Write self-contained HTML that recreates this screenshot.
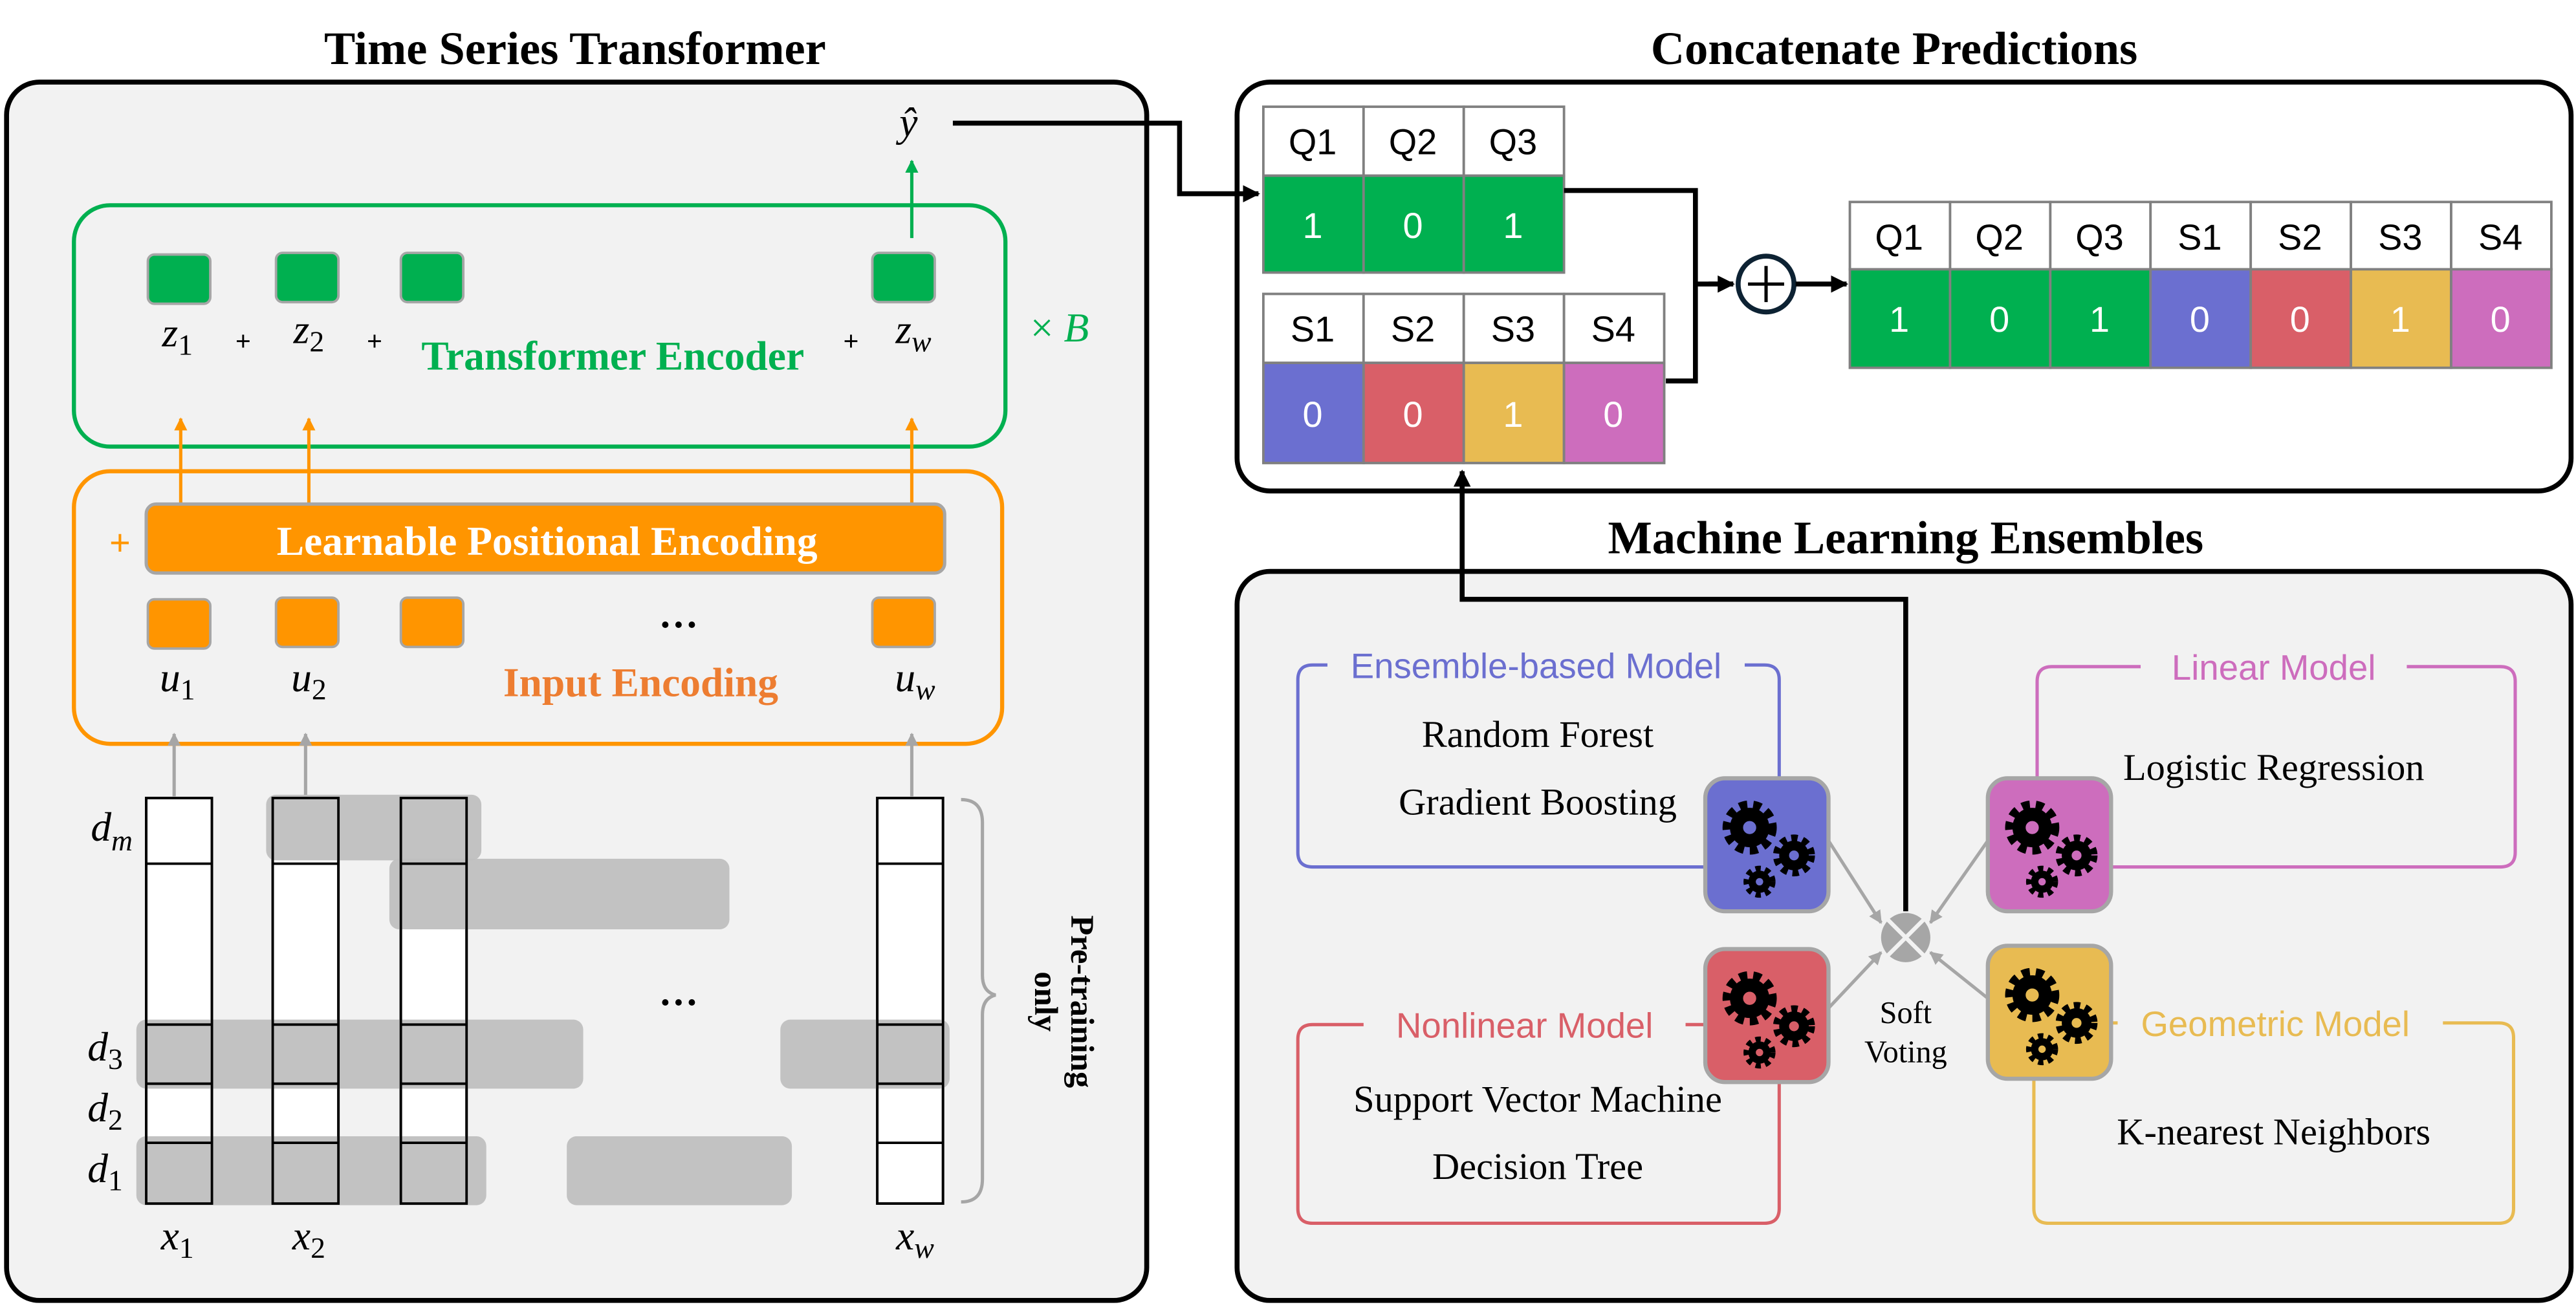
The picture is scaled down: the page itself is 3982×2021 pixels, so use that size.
<!DOCTYPE html>
<html><head><meta charset="utf-8"><style>html,body{margin:0;padding:0;background:#fff}svg{display:block}</style></head><body>
<svg width="3982" height="2021" viewBox="0 0 1568 796" preserveAspectRatio="none" xmlns="http://www.w3.org/2000/svg">
<defs>
<marker id="ag" viewBox="0 0 10 10" refX="9" refY="5" markerWidth="4" markerHeight="4" orient="auto"><path d="M0,0L10,5L0,10z" fill="#00b050"/></marker>
<marker id="ao" viewBox="0 0 10 10" refX="9" refY="5" markerWidth="4" markerHeight="4" orient="auto"><path d="M0,0L10,5L0,10z" fill="#ff9500"/></marker>
<marker id="agr" viewBox="0 0 10 10" refX="9" refY="5" markerWidth="4" markerHeight="4" orient="auto"><path d="M0,0L10,5L0,10z" fill="#a6a6a6"/></marker>
<marker id="ab" viewBox="0 0 10 10" refX="9" refY="5" markerWidth="3.5" markerHeight="3.5" orient="auto"><path d="M0,0L10,5L0,10z" fill="#000"/></marker>
<g id="gear">
<circle cx="25" cy="28" r="13" fill="none" stroke="#000" stroke-width="7" stroke-dasharray="4.5 3.4"/>
<circle cx="25" cy="28" r="8" fill="none" stroke="#000" stroke-width="8"/>
<circle cx="52" cy="45" r="10" fill="none" stroke="#000" stroke-width="5.5" stroke-dasharray="3.6 2.9"/>
<circle cx="52" cy="45" r="6" fill="none" stroke="#000" stroke-width="6"/>
<circle cx="31" cy="61" r="7.5" fill="none" stroke="#000" stroke-width="4.5" stroke-dasharray="3 2.5"/>
<circle cx="31" cy="61" r="4.5" fill="none" stroke="#000" stroke-width="4.5"/>
</g>
</defs>
<g font-family="Liberation Serif, serif" font-weight="bold" font-size="28.5" text-anchor="middle">
<text x="350" y="39">Time Series Transformer</text>
<text x="1153" y="39">Concatenate Predictions</text>
<text x="1160" y="337">Machine Learning Ensembles</text>
</g>
<!-- left panel -->
<rect x="4" y="50" width="694" height="742" rx="20" fill="#f2f2f2" stroke="#000" stroke-width="3"/>
<rect x="45" y="125" width="567" height="147" rx="22" fill="none" stroke="#00b050" stroke-width="2.5"/>
<g fill="#00b050" stroke="#a6a6a6" stroke-width="1.5">
<rect x="90" y="155" width="38" height="30" rx="4"/><rect x="168" y="154" width="38" height="30" rx="4"/><rect x="244" y="154" width="38" height="30" rx="4"/><rect x="531" y="154" width="38" height="30" rx="4"/></g>
<line x1="555" y1="145" x2="555" y2="98" stroke="#00b050" stroke-width="2" marker-end="url(#ag)"/>
<g font-family="Liberation Serif, serif" font-style="italic" font-size="25" text-anchor="middle">
<text x="108" y="211">z<tspan font-size="18" dy="5" font-style="normal">1</tspan></text>
<text x="188" y="209">z<tspan font-size="18" dy="5" font-style="normal">2</tspan></text>
<text x="556" y="209">z<tspan font-size="18" dy="5">w</tspan></text>
<text x="553" y="83">ŷ</text>
<text x="108" y="421">u<tspan font-size="18" dy="5" font-style="normal">1</tspan></text>
<text x="188" y="421">u<tspan font-size="18" dy="5" font-style="normal">2</tspan></text>
<text x="557" y="421">u<tspan font-size="18" dy="5">w</tspan></text>
<text x="108" y="761">x<tspan font-size="18" dy="5" font-style="normal">1</tspan></text>
<text x="188" y="761">x<tspan font-size="18" dy="5" font-style="normal">2</tspan></text>
<text x="557" y="761">x<tspan font-size="18" dy="5">w</tspan></text>
<text x="68" y="512">d<tspan font-size="18" dy="6">m</tspan></text>
<text x="64" y="646">d<tspan font-size="18" dy="5" font-style="normal">3</tspan></text>
<text x="64" y="683">d<tspan font-size="18" dy="5" font-style="normal">2</tspan></text>
<text x="64" y="720">d<tspan font-size="18" dy="5" font-style="normal">1</tspan></text>
</g>
<g font-family="Liberation Sans, sans-serif" font-size="16" text-anchor="middle"><text x="148" y="213">+</text><text x="228" y="213">+</text><text x="518" y="213">+</text></g>
<text x="373" y="225" font-family="Liberation Serif, serif" font-weight="bold" font-size="25" fill="#00b050" text-anchor="middle">Transformer Encoder</text>
<text x="645" y="208" font-family="Liberation Serif, serif" font-size="25" fill="#00b050" text-anchor="middle">× <tspan font-style="italic">B</tspan></text>
<rect x="45" y="287" width="565" height="166" rx="22" fill="none" stroke="#ff9500" stroke-width="2.5"/>
<g stroke="#ff9500" stroke-width="2"><line x1="110" y1="307" x2="110" y2="255" marker-end="url(#ao)"/><line x1="188" y1="307" x2="188" y2="255" marker-end="url(#ao)"/><line x1="555" y1="307" x2="555" y2="255" marker-end="url(#ao)"/></g>
<rect x="89" y="307" width="486" height="42" rx="6" fill="#ff9500" stroke="#a6a6a6" stroke-width="2"/>
<text x="333" y="338" font-family="Liberation Serif, serif" font-weight="bold" font-size="25" fill="#fff" text-anchor="middle">Learnable Positional Encoding</text>
<text x="73" y="338" font-family="Liberation Sans, sans-serif" font-size="22" fill="#ff9500" text-anchor="middle">+</text>
<g fill="#ff9500" stroke="#a6a6a6" stroke-width="1.5">
<rect x="90" y="365" width="38" height="30" rx="4"/><rect x="168" y="364" width="38" height="30" rx="4"/><rect x="244" y="364" width="38" height="30" rx="4"/><rect x="531" y="364" width="38" height="30" rx="4"/></g>
<text x="413" y="382" font-family="Liberation Serif, serif" font-weight="bold" font-size="24" text-anchor="middle">…</text>
<text x="390" y="424" font-family="Liberation Serif, serif" font-weight="bold" font-size="25" fill="#ed7d31" text-anchor="middle">Input Encoding</text>
<g stroke="#a6a6a6" stroke-width="2"><line x1="106" y1="485" x2="106" y2="447" marker-end="url(#agr)"/><line x1="186" y1="485" x2="186" y2="447" marker-end="url(#agr)"/><line x1="555" y1="485" x2="555" y2="447" marker-end="url(#agr)"/></g>
<!-- data grid -->
<g fill="#fff" stroke="#000" stroke-width="1.5">
<rect x="89" y="486" width="40" height="247"/><rect x="166" y="486" width="40" height="247"/><rect x="244" y="486" width="40" height="247"/><rect x="534" y="486" width="40" height="247"/></g>
<g fill="#bfbfbf" fill-opacity="0.95">
<rect x="162" y="484" width="131" height="40" rx="6"/>
<rect x="237" y="523" width="207" height="43" rx="6"/>
<rect x="83" y="621" width="272" height="42" rx="6"/>
<rect x="475" y="621" width="103" height="42" rx="6"/>
<rect x="83" y="692" width="213" height="42" rx="6"/>
<rect x="345" y="692" width="137" height="42" rx="6"/>
</g>
<g fill="none" stroke="#000" stroke-width="1.5">
<rect x="89" y="486" width="40" height="247"/><rect x="166" y="486" width="40" height="247"/><rect x="244" y="486" width="40" height="247"/><rect x="534" y="486" width="40" height="247"/>
<path d="M89 526h40M166 526h40M244 526h40M534 526h40M89 624h40M166 624h40M244 624h40M534 624h40M89 660h40M166 660h40M244 660h40M534 660h40M89 696h40M166 696h40M244 696h40M534 696h40"/></g>
<text x="413" y="612" font-family="Liberation Serif, serif" font-weight="bold" font-size="24" text-anchor="middle">…</text>
<path d="M585 487q13 0 13 14v93q0 10 8 12q-8 2 -8 12v100q0 14 -13 14" fill="none" stroke="#a6a6a6" stroke-width="2"/>
<text transform="translate(652,610) rotate(90)" font-family="Liberation Serif, serif" font-weight="bold" font-size="20" text-anchor="middle"><tspan x="0" y="0">Pre-training</tspan><tspan x="0" y="22">only</tspan></text>
<!-- top right panel -->
<rect x="753" y="50" width="812" height="249" rx="20" fill="#fff" stroke="#000" stroke-width="3"/>
<path d="M580 75H718V118H766" fill="none" stroke="#000" stroke-width="3" marker-end="url(#ab)"/>
<g font-family="Liberation Sans, sans-serif" font-size="22" text-anchor="middle" stroke="#808080" stroke-width="1.5">
<rect x="769" y="65" width="61" height="42" fill="#fff"/><rect x="830" y="65" width="61" height="42" fill="#fff"/><rect x="891" y="65" width="61" height="42" fill="#fff"/>
<rect x="769" y="107" width="61" height="59" fill="#00b050"/><rect x="830" y="107" width="61" height="59" fill="#00b050"/><rect x="891" y="107" width="61" height="59" fill="#00b050"/>
<rect x="769" y="179" width="61" height="42" fill="#fff"/><rect x="830" y="179" width="61" height="42" fill="#fff"/><rect x="891" y="179" width="61" height="42" fill="#fff"/><rect x="952" y="179" width="61" height="42" fill="#fff"/>
<rect x="769" y="221" width="61" height="61" fill="#6b6fd0"/><rect x="830" y="221" width="61" height="61" fill="#d95f68"/><rect x="891" y="221" width="61" height="61" fill="#e8bb52"/><rect x="952" y="221" width="61" height="61" fill="#cd6dbd"/>
<rect x="1126" y="123" width="61" height="41" fill="#fff"/><rect x="1187" y="123" width="61" height="41" fill="#fff"/><rect x="1248" y="123" width="61" height="41" fill="#fff"/><rect x="1309" y="123" width="61" height="41" fill="#fff"/><rect x="1370" y="123" width="61" height="41" fill="#fff"/><rect x="1431" y="123" width="61" height="41" fill="#fff"/><rect x="1492" y="123" width="61" height="41" fill="#fff"/>
<rect x="1126" y="164" width="61" height="60" fill="#00b050"/><rect x="1187" y="164" width="61" height="60" fill="#00b050"/><rect x="1248" y="164" width="61" height="60" fill="#00b050"/><rect x="1309" y="164" width="61" height="60" fill="#6b6fd0"/><rect x="1370" y="164" width="61" height="60" fill="#d95f68"/><rect x="1431" y="164" width="61" height="60" fill="#e8bb52"/><rect x="1492" y="164" width="61" height="60" fill="#cd6dbd"/>
<g stroke="none">
<text x="799" y="94">Q1</text><text x="860" y="94">Q2</text><text x="921" y="94">Q3</text>
<text x="799" y="208">S1</text><text x="860" y="208">S2</text><text x="921" y="208">S3</text><text x="982" y="208">S4</text>
<text x="1156" y="152">Q1</text><text x="1217" y="152">Q2</text><text x="1278" y="152">Q3</text><text x="1339" y="152">S1</text><text x="1400" y="152">S2</text><text x="1461" y="152">S3</text><text x="1522" y="152">S4</text>
<g fill="#fff"><text x="799" y="145">1</text><text x="860" y="145">0</text><text x="921" y="145">1</text>
<text x="799" y="260">0</text><text x="860" y="260">0</text><text x="921" y="260">1</text><text x="982" y="260">0</text>
<text x="1156" y="202">1</text><text x="1217" y="202">0</text><text x="1278" y="202">1</text><text x="1339" y="202">0</text><text x="1400" y="202">0</text><text x="1461" y="202">1</text><text x="1522" y="202">0</text></g>
</g></g>
<path d="M952 116H1032V232H1014M1032 173H1055" fill="none" stroke="#000" stroke-width="3"/>
<line x1="1040" y1="173" x2="1055" y2="173" stroke="#000" stroke-width="3" marker-end="url(#ab)"/>
<circle cx="1075" cy="173" r="17" fill="#fff" stroke="#0d2233" stroke-width="3"/>
<path d="M1075 162v22M1064 173h22" stroke="#000" stroke-width="2"/>
<line x1="1093" y1="173" x2="1124" y2="173" stroke="#000" stroke-width="3" marker-end="url(#ab)"/>
<!-- bottom right panel -->
<rect x="753" y="348" width="812" height="444" rx="20" fill="#f2f2f2" stroke="#000" stroke-width="3"/>
<path d="M1160 555V365H890V287" fill="none" stroke="#000" stroke-width="3" marker-end="url(#ab)"/>
<g fill="none" stroke-width="2">
<path d="M808 405H799q-9 0 -9 9V519q0 9 9 9H1040M1062 405h12q9 0 9 9V474" stroke="#6b6fd0"/>
<path d="M1303 406H1249q-9 0 -9 9V474M1285 528H1522q9 0 9 -9V415q0 -9 -9 -9H1465" stroke="#cd6dbd"/>
<path d="M830 624H799q-9 0 -9 9V736q0 9 9 9H1074q9 0 9 -9V659M1026 624h12" stroke="#d95f68"/>
<path d="M1285 623h4M1487 623h34q9 0 9 9V736q0 9 -9 9H1247q-9 0 -9 -9V657" stroke="#e8bb52"/>
</g>
<g font-family="Liberation Sans, sans-serif" font-size="21.5" text-anchor="middle">
<text x="935" y="413" fill="#6b6fd0">Ensemble-based Model</text>
<text x="1384" y="414" fill="#cd6dbd">Linear Model</text>
<text x="928" y="632" fill="#d95f68">Nonlinear Model</text>
<text x="1385" y="631" fill="#e8bb52">Geometric Model</text>
</g>
<g font-family="Liberation Serif, serif" font-size="23" text-anchor="middle">
<text x="936" y="455">Random Forest</text><text x="936" y="496">Gradient Boosting</text>
<text x="1384" y="475">Logistic Regression</text>
<text x="936" y="677">Support Vector Machine</text><text x="936" y="718">Decision Tree</text>
<text x="1384" y="697">K-nearest Neighbors</text>
<text x="1160" y="623" font-size="19">Soft</text><text x="1160" y="647" font-size="19">Voting</text>
</g>
<g stroke="#a6a6a6" stroke-width="2.5">
<rect x="1038" y="474" width="75" height="81" rx="12" fill="#6b6fd0"/>
<rect x="1210" y="474" width="75" height="81" rx="12" fill="#cd6dbd"/>
<rect x="1038" y="578" width="75" height="81" rx="12" fill="#d95f68"/>
<rect x="1210" y="576" width="75" height="81" rx="12" fill="#e8bb52"/>
</g>
<use href="#gear" x="1040" y="476"/><use href="#gear" x="1212" y="476"/><use href="#gear" x="1040" y="580"/><use href="#gear" x="1212" y="578"/>
<g stroke="#a6a6a6" stroke-width="2">
<line x1="1113" y1="512" x2="1145" y2="562" marker-end="url(#agr)"/>
<line x1="1210" y1="512" x2="1175" y2="562" marker-end="url(#agr)"/>
<line x1="1113" y1="614" x2="1145" y2="580" marker-end="url(#agr)"/>
<line x1="1210" y1="608" x2="1175" y2="580" marker-end="url(#agr)"/>
</g>
<circle cx="1160" cy="571" r="15" fill="#a6a6a6"/>
<path d="M1149 560L1171 582M1171 560L1149 582" stroke="#f2f2f2" stroke-width="2.5"/>
</svg>
</body></html>
